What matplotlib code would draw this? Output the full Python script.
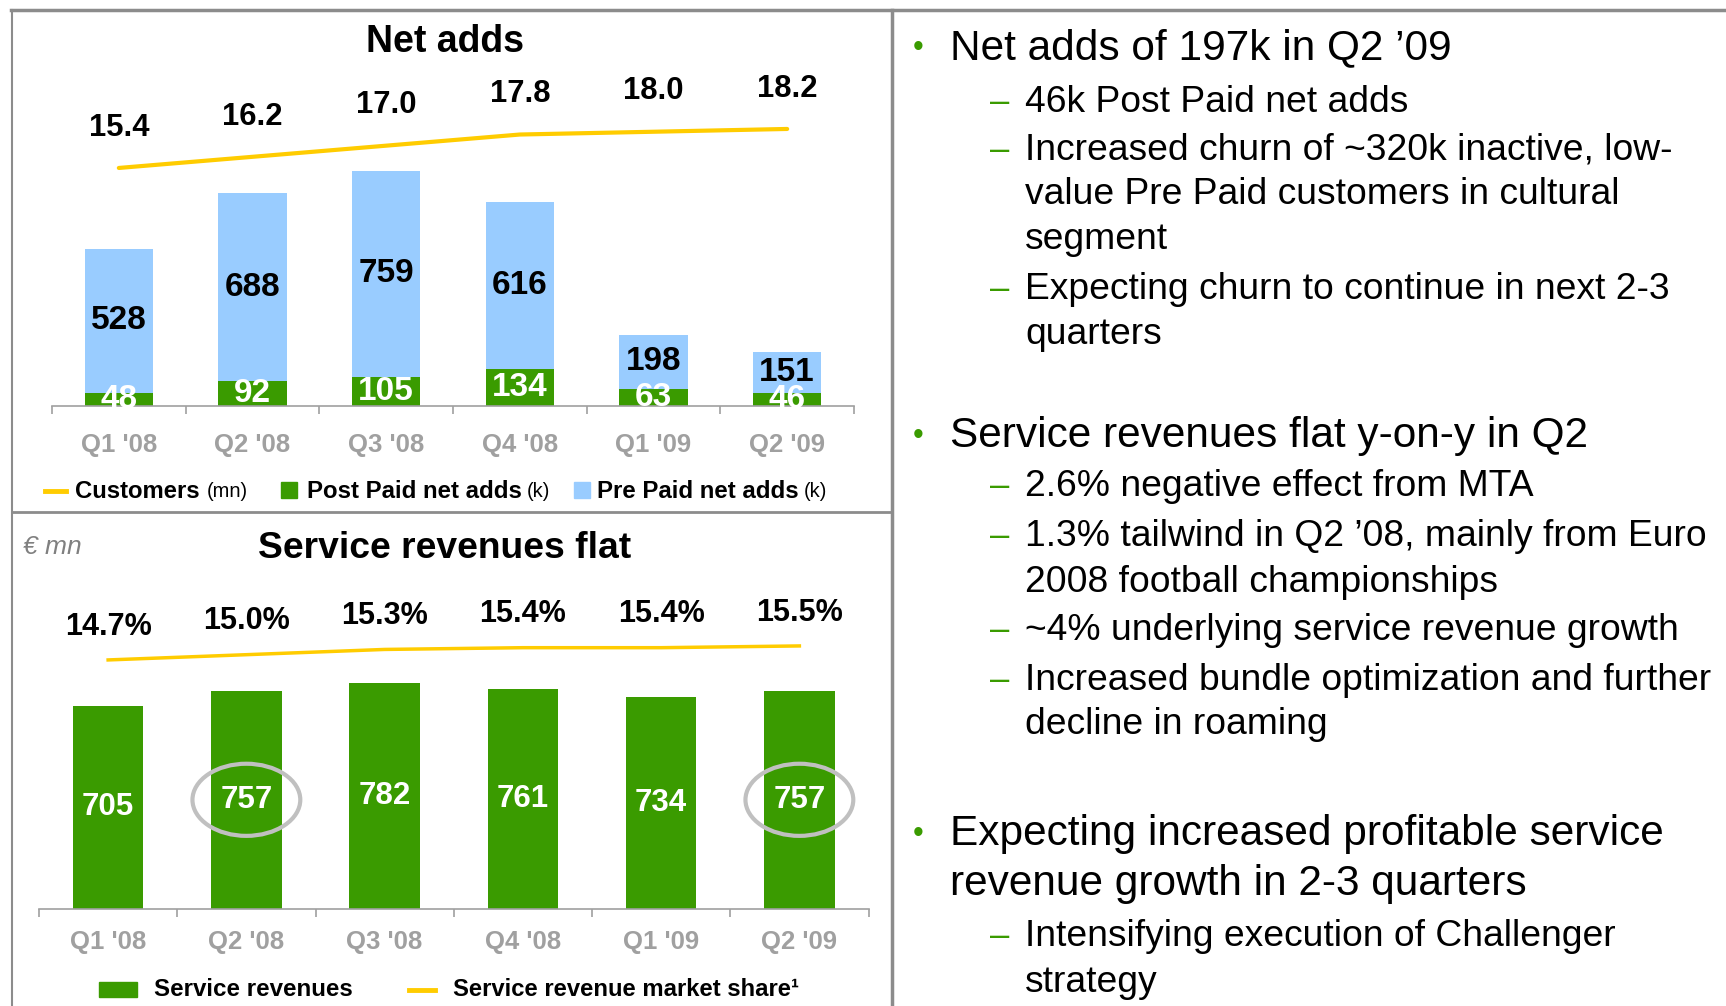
import numpy as np
import matplotlib
matplotlib.use("Agg")
import matplotlib.pyplot as plt
from matplotlib.lines import Line2D
from matplotlib.patches import Rectangle, Ellipse

plt.rcParams['font.family'] = ['Liberation Sans', 'DejaVu Sans']

# ---------- data ----------
quarters = ["Q1 '08", "Q2 '08", "Q3 '08", "Q4 '08", "Q1 '09", "Q2 '09"]
post_paid = [48, 92, 105, 134, 63, 46]          # k
pre_paid = [528, 688, 759, 616, 198, 151]       # k
customers = [15.4, 16.2, 17.0, 17.8, 18.0, 18.2]  # mn
service_rev = [705, 757, 782, 761, 734, 757]    # EUR mn
market_share = [14.7, 15.0, 15.3, 15.4, 15.4, 15.5]  # %
highlighted = [1, 5]

bullets = [
    (0, "Net adds of 197k in Q2 \u201909", 48),
    (1, "46k Post Paid net adds", 102),
    (1, "Increased churn of ~320k inactive, low-", 150),
    (2, "value Pre Paid customers in cultural", 195),
    (2, "segment", 240),
    (1, "Expecting churn to continue in next 2-3", 289),
    (2, "quarters", 334),
    (0, "Service revenues flat y-on-y in Q2", 436),
    (1, "2.6% negative effect from MTA", 487),
    (1, "1.3% tailwind in Q2 \u201908, mainly from Euro", 537),
    (2, "2008 football championships", 582),
    (1, "~4% underlying service revenue growth", 631),
    (1, "Increased bundle optimization and further", 680),
    (2, "decline in roaming", 725),
    (0, "Expecting increased profitable service", 834),
    (3, "revenue growth in 2-3 quarters", 884),
    (1, "Intensifying execution of Challenger", 937),
    (2, "strategy", 982),
]

GREEN = '#3A9B00'
BLUE = '#99CCFF'
YELLOW = '#FFCC00'
TICKGRAY = '#A0A0A0'
BORDER = '#8C8C8C'

W, H = 1726, 1006
fig = plt.figure(figsize=(W / 100, H / 100), dpi=100)


def fx(px):
    return px / W


def fy(py):
    return 1 - py / H


def box(left, top, right, bottom):
    return [fx(left), fy(bottom), fx(right) - fx(left), fy(top) - fy(bottom)]


x = np.arange(len(quarters))


def style_axis(ax, pad):
    for s in ['top', 'right', 'left']:
        ax.spines[s].set_visible(False)
    ax.spines['bottom'].set_color(TICKGRAY)
    ax.spines['bottom'].set_linewidth(1.2)
    ax.set_yticks([])
    ax.set_xlim(-0.5, len(quarters) - 0.5)
    ax.set_xticks(x)
    ax.set_xticklabels(quarters, fontsize=18.5, fontweight='bold', color=TICKGRAY)
    ax.set_xticks(np.arange(-0.5, len(quarters), 1), minor=True)
    ax.tick_params(axis='x', which='major', length=0, pad=pad)
    ax.tick_params(axis='x', which='minor', length=6, width=1.2, color=TICKGRAY)


# ---------- Net adds ----------
ax1 = fig.add_axes(box(52, 10, 854, 406))
ax1.patch.set_alpha(0)
ax1.bar(x, post_paid, width=0.51, color=GREEN)
ax1.bar(x, pre_paid, width=0.51, bottom=post_paid, color=BLUE)
ax1.set_ylim(0, 1453)
style_axis(ax1, 19.5)
for i in x:
    ax1.text(i, post_paid[i] / 2, str(post_paid[i]), ha='center', va='center',
             color='white', fontsize=24, fontweight='bold')
    ax1.text(i, post_paid[i] + pre_paid[i] / 2, str(pre_paid[i]), ha='center',
             va='center', color='black', fontsize=24, fontweight='bold')

ax1b = ax1.twinx()
ax1b.set_ylim(-1.69, 26.74)
ax1b.plot(x, customers, color=YELLOW, lw=3, solid_capstyle='round')
ax1b.axis('off')
for i in x:
    ax1b.annotate(f"{customers[i]:.1f}", (i, customers[i]), xytext=(0, 29),
                  textcoords='offset points', ha='center', va='center',
                  fontsize=22.3, fontweight='bold')

fig.text(fx(445), fy(42), "Net adds", ha='center', va='center',
         fontsize=27, fontweight='bold')

# legend (top)
ly = fy(491)
fig.add_artist(Line2D([fx(45), fx(66)], [ly, ly], color=YELLOW, lw=3.5))
fig.text(fx(75), ly, "Customers", ha='left', va='center', fontsize=17.2, fontweight='bold')
fig.text(fx(207), ly, "(mn)", ha='left', va='center', fontsize=14.5)
fig.add_artist(Rectangle((fx(281), fy(498)), fx(16), 16 / H, color=GREEN))
fig.text(fx(307), ly, "Post Paid net adds", ha='left', va='center', fontsize=17.3, fontweight='bold')
fig.text(fx(527), ly, "(k)", ha='left', va='center', fontsize=14.5)
fig.add_artist(Rectangle((fx(574), fy(498)), fx(16), 16 / H, color=BLUE))
fig.text(fx(597), ly, "Pre Paid net adds", ha='left', va='center', fontsize=17.3, fontweight='bold')
fig.text(fx(804), ly, "(k)", ha='left', va='center', fontsize=14.5)

# ---------- Service revenues ----------
ax2 = fig.add_axes(box(39, 560, 868.5, 909))
ax2.patch.set_alpha(0)
ax2.bar(x, service_rev, width=0.51, color=GREEN)
ax2.set_ylim(0, 1209.7)
style_axis(ax2, 15)
for i in x:
    ax2.text(i, service_rev[i] / 2, str(service_rev[i]), ha='center', va='center',
             color='white', fontsize=22.5, fontweight='bold')
for i in highlighted:
    ax2.add_patch(Ellipse((i, service_rev[i] / 2), width=0.78, height=250,
                          fill=False, edgecolor='#C0C0C0', lw=3))

ax2b = ax2.twinx()
ax2b.set_ylim(0.47, 20.41)
ax2b.plot(x, market_share, color=YELLOW, lw=2.5)
ax2b.axis('off')
for i in x:
    ax2b.annotate(f"{market_share[i]:.1f}%", (i, market_share[i]), xytext=(0, 24),
                  textcoords='offset points', ha='center', va='center',
                  fontsize=22, fontweight='bold')

fig.text(fx(445), fy(549), "Service revenues flat", ha='center', va='center',
         fontsize=26.8, fontweight='bold')
fig.text(fx(23), fy(547), "\u20ac mn", ha='left', va='center', fontsize=19,
         style='italic', color='#808080')

# legend (bottom)
ly = fy(990)
fig.add_artist(Rectangle((fx(99), fy(997)), fx(38), 15 / H, color=GREEN))
fig.text(fx(154), ly, "Service revenues", ha='left', va='center', fontsize=17.4, fontweight='bold')
fig.add_artist(Line2D([fx(409), fx(435)], [ly, ly], color=YELLOW, lw=3.5))
fig.text(fx(453), ly, "Service revenue market share\u00b9", ha='left', va='center',
         fontsize=17.2, fontweight='bold')

# ---------- frame lines ----------
fig.add_artist(Line2D([fx(11), 1], [fy(9.5), fy(9.5)], color=BORDER, lw=2.5))
fig.add_artist(Line2D([fx(12.3), fx(12.3)], [fy(9.5), 0], color=BORDER, lw=1.5))
fig.add_artist(Line2D([fx(12), fx(892)], [fy(512), fy(512)], color=BORDER, lw=2))
fig.add_artist(Line2D([fx(891.7), fx(891.7)], [fy(9.5), 0], color=BORDER, lw=2.5))

# ---------- bullet text ----------
for level, txt, ypx in bullets:
    y = fy(ypx)
    if level == 0:
        fig.text(fx(918), y, "\u2022", ha='center', va='center', fontsize=22, color=GREEN)
        fig.text(fx(950), y, txt, ha='left', va='center', fontsize=30.5)
    elif level == 3:
        fig.text(fx(950), y, txt, ha='left', va='center', fontsize=30.5)
    elif level == 1:
        fig.text(fx(990), y, "\u2013", ha='left', va='center', fontsize=25, color=GREEN)
        fig.text(fx(1025), y, txt, ha='left', va='center', fontsize=26.8)
    else:
        fig.text(fx(1025), y, txt, ha='left', va='center', fontsize=26.8)

fig.savefig("out.png", dpi=100)
